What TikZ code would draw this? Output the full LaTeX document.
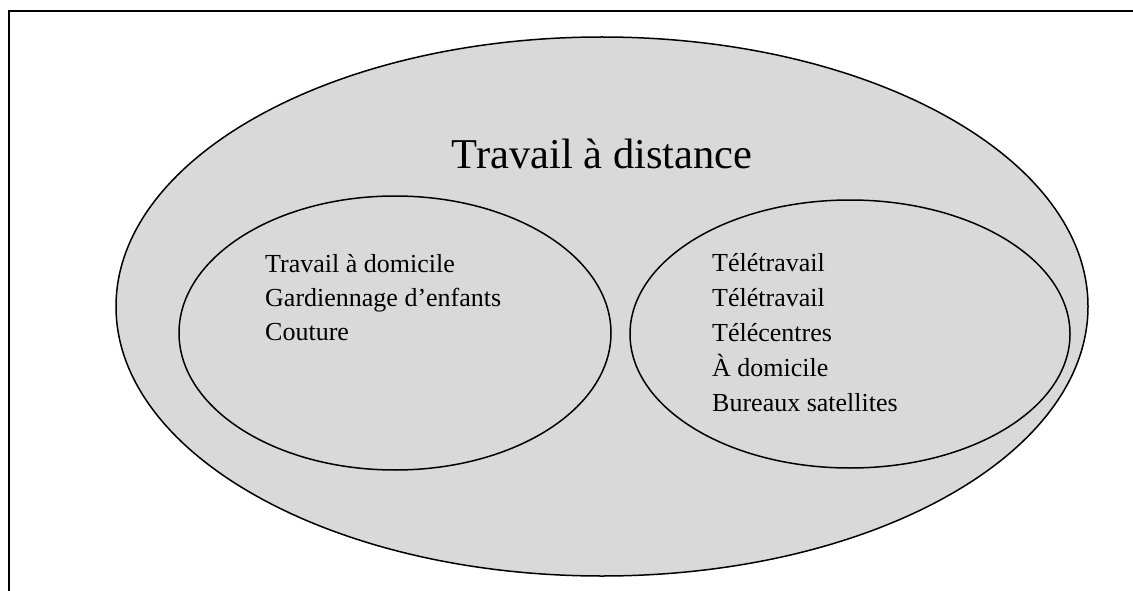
\documentclass[tikz,border=0pt]{standalone}
\usepackage{fontspec}
\setmainfont{Liberation Serif}
\usetikzlibrary{shapes.geometric}
\definecolor{setfill}{RGB}{217,217,217}
\tikzset{
  setshape/.style={ellipse, draw=black, line width=1.5pt, fill=setfill, inner sep=0pt},
  itemline/.style={anchor=base west, inner sep=0pt, font=\fontsize{26}{35}\selectfont},
  framerule/.style={line width=2.2pt, line cap=butt}
}
\begin{document}
\begin{tikzpicture}[x=1pt,y=-1pt]
  \useasboundingbox (0,0) rectangle (1133,591);
  % page rule along the top and left side
  \coordinate (fl) at (9,591);
  \coordinate (fc) at (9,11);
  \coordinate (fr) at (1133,11);
  \draw[framerule] (fl) -- (fc) -- (fr);
  % outer set
  \node[setshape, minimum width=972pt, minimum height=539pt] (outer) at (602,306.5) {};
  \node[font=\fontsize{42.5}{50}\selectfont, anchor=base] (title) at (602,168) {Travail à distance};
  % inner sets
  \node[setshape, minimum width=432pt, minimum height=274pt] (home) at (395,333) {};
  \node[setshape, minimum width=440pt, minimum height=268pt] (tele) at (850,334) {};
  % items of the left set
  \node[itemline] (home1) at (265,272) {Travail à domicile};
  \node[itemline] (home2) at (265,306) {Gardiennage d’enfants};
  \node[itemline] (home3) at (265,340) {Couture};
  % items of the right set
  \node[itemline] (tele1) at (712,271) {Télétravail};
  \node[itemline] (tele2) at (712,306) {Télétravail};
  \node[itemline] (tele3) at (712,341) {Télécentres};
  \node[itemline] (tele4) at (712,376) {À domicile};
  \node[itemline] (tele5) at (712,411) {Bureaux satellites};
\end{tikzpicture}
\end{document}
